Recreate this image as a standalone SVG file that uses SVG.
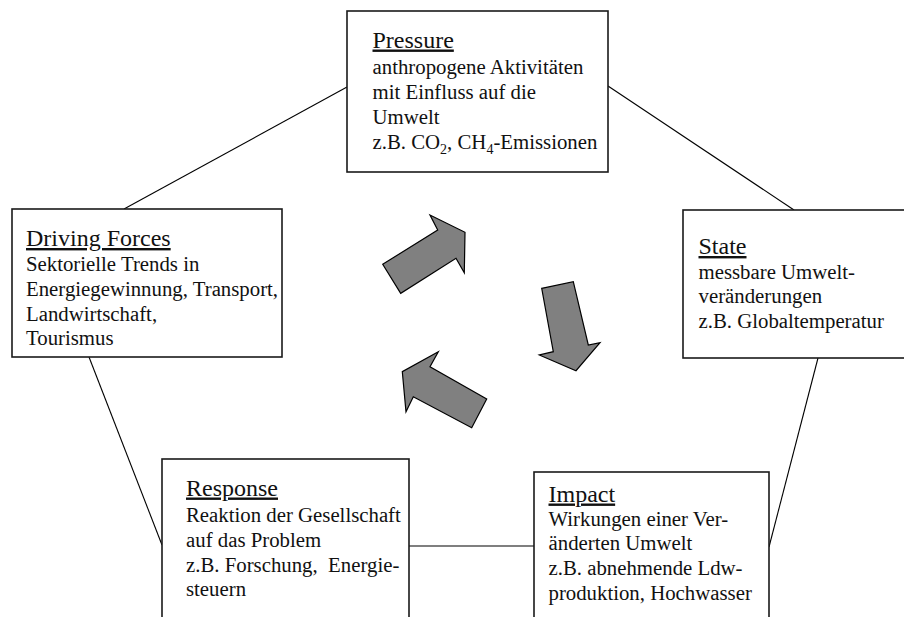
<svg xmlns="http://www.w3.org/2000/svg" width="904" height="617" viewBox="0 0 904 617">
  <style>
    .box { fill: #ffffff; stroke: #1a1a1a; stroke-width: 1.6; }
    .link { stroke: #000000; stroke-width: 1.1; fill: none; }
    .cycle { fill: #808080; stroke: #000000; stroke-width: 1.2; stroke-linejoin: miter; }
    text { font-family: "Liberation Serif", "Times New Roman", serif; fill: #111111; white-space: pre; }
    .title { font-size: 24px; text-decoration: underline; }
    .body { font-size: 20.8px; }
  </style>
  <rect width="904" height="617" fill="#ffffff"/>

  <!-- connectors between the five stages -->
  <g id="connectors">
    <line class="link" x1="347" y1="87" x2="124" y2="209"/>
    <line class="link" x1="608" y1="86" x2="794" y2="210"/>
    <line class="link" x1="89" y1="357" x2="162" y2="545"/>
    <line class="link" x1="818" y1="358" x2="769" y2="547"/>
    <line class="link" x1="409" y1="546" x2="534" y2="546"/>
  </g>

  <!-- cycle arrows in the centre -->
  <g id="cycle-arrows">
    <polygon class="cycle" points="382.7,264.3 437.7,230 430,215 465,232.3 464.3,272.7 456,258.3 400.7,293.3"/>
    <polygon class="cycle" points="541.7,288.3 573.3,281.7 588.3,345 600,342.7 576,370.7 539.3,355 553.3,351.7"/>
    <polygon class="cycle" points="486.7,399 471.7,427.7 413.3,396.7 406,411.7 402.3,371.7 438.3,351.7 430,366.7"/>
  </g>

  <g id="pressure">
    <rect class="box" x="347" y="11" width="261" height="161"/>
    <text class="title" x="372.5" y="47.5">Pressure</text>
    <text class="body" x="372.5" y="74">anthropogene Aktivitäten</text>
    <text class="body" x="372.5" y="99">mit Einfluss auf die</text>
    <text class="body" x="372.5" y="123.5">Umwelt</text>
    <text class="body" x="372.5" y="148.5">z.B. CO<tspan font-size="14" dy="5">2</tspan><tspan dy="-5">, CH</tspan><tspan font-size="14" dy="5">4</tspan><tspan dy="-5">-Emissionen</tspan></text>
  </g>

  <g id="driving-forces">
    <rect class="box" x="12" y="209" width="270" height="148"/>
    <text class="title" x="26" y="246">Driving Forces</text>
    <text class="body" x="26" y="271">Sektorielle Trends in</text>
    <text class="body" x="26" y="296">Energiegewinnung, Transport,</text>
    <text class="body" x="26" y="320.5">Landwirtschaft,</text>
    <text class="body" x="26" y="345">Tourismus</text>
  </g>

  <g id="state">
    <rect class="box" x="683" y="210" width="240" height="148"/>
    <text class="title" x="698.5" y="254">State</text>
    <text class="body" x="698.5" y="278.5">messbare Umwelt-</text>
    <text class="body" x="698.5" y="303">veränderungen</text>
    <text class="body" x="698.5" y="328">z.B. Globaltemperatur</text>
  </g>

  <g id="response">
    <rect class="box" x="162" y="459" width="247" height="180"/>
    <text class="title" x="186" y="495.5">Response</text>
    <text class="body" x="186" y="521.5">Reaktion der Gesellschaft</text>
    <text class="body" x="186" y="546.5">auf das Problem</text>
    <text class="body" x="186" y="571.5">z.B. Forschung,&#160; Energie-</text>
    <text class="body" x="186" y="596">steuern</text>
  </g>

  <g id="impact">
    <rect class="box" x="534" y="472" width="235" height="170"/>
    <text class="title" x="548.5" y="501.5">Impact</text>
    <text class="body" x="548.5" y="526">Wirkungen einer Ver-</text>
    <text class="body" x="548.5" y="550">änderten Umwelt</text>
    <text class="body" x="548.5" y="575">z.B. abnehmende Ldw-</text>
    <text class="body" x="548.5" y="599.5">produktion, Hochwasser</text>
  </g>
</svg>
